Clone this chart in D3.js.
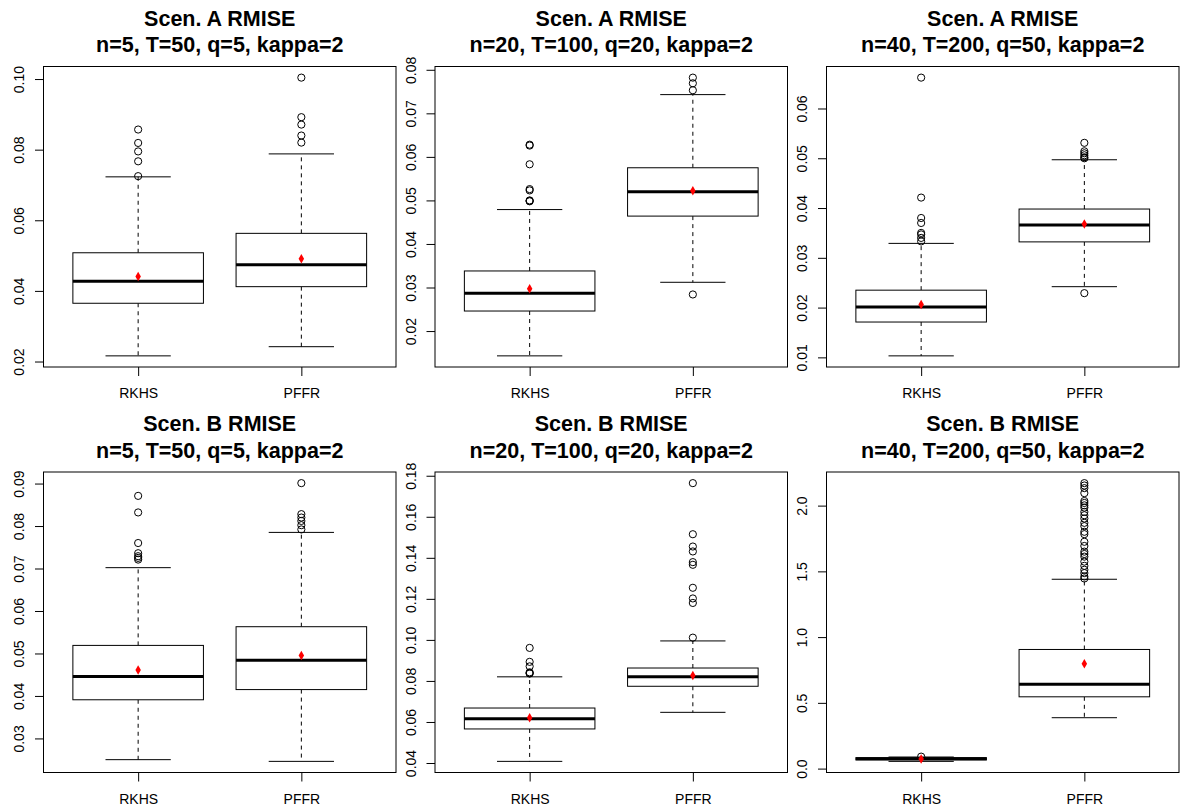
<!DOCTYPE html>
<html><head><meta charset="utf-8">
<script src="https://cdn.jsdelivr.net/npm/d3@7"></script>
<style>
body{margin:0;background:#fff}
svg{display:block}
text{font-family:"Liberation Sans",Arial,Helvetica,sans-serif}
</style>
</head><body>
<svg id="c" width="1183" height="811"></svg>
<script>
// ---------- data ----------
const titles = ["Scen. A RMISE","Scen. A RMISE","Scen. A RMISE","Scen. B RMISE","Scen. B RMISE","Scen. B RMISE"];
const subtitles = ["n=5, T=50, q=5, kappa=2","n=20, T=100, q=20, kappa=2","n=40, T=200, q=50, kappa=2",
                   "n=5, T=50, q=5, kappa=2","n=20, T=100, q=20, kappa=2","n=40, T=200, q=50, kappa=2"];
const categories = ["RKHS","PFFR"];

const whiskerLow  = [[0.0216,0.0242],[0.0143,0.0312],[0.0103,0.0242],[0.0250,0.0246],[0.0408,0.0647],[0.055,0.387]];
const q1          = [[0.0365,0.0412],[0.0246,0.0464],[0.0171,0.0332],[0.0391,0.0415],[0.0566,0.0774],[0.066,0.546]];
const medians     = [[0.0427,0.0474],[0.0287,0.0520],[0.0201,0.0366],[0.0446,0.0484],[0.0616,0.0820],[0.075,0.642]];
const q3          = [[0.0508,0.0563],[0.0338,0.0575],[0.0235,0.0398],[0.0519,0.0563],[0.0668,0.0863],[0.083,0.906]];
const whiskerHigh = [[0.0723,0.0788],[0.0479,0.0743],[0.0329,0.0497],[0.0702,0.0785],[0.0820,0.0995],[0.088,1.44]];
const means       = [[0.0441,0.0491],[0.0297,0.0522],[0.0206,0.0368],[0.0461,0.0495],[0.0621,0.0826],[0.073,0.797]];

const outliers = [
  [[0.0857,0.0819,0.0795,0.0767,0.0725],[0.1004,0.0892,0.0871,0.0840,0.0820]],
  [[0.0628,0.0626,0.0583,0.0526,0.0523,0.0500,0.0499,0.0498],[0.0782,0.0769,0.0753,0.0284]],
  [[0.0662,0.0421,0.0380,0.0370,0.0350,0.0347,0.0340,0.0333],[0.0531,0.0514,0.0510,0.0506,0.0502,0.0500,0.0229]],
  [[0.0871,0.0832,0.0760,0.0736,0.0729,0.0725,0.0721],[0.0901,0.0828,0.0820,0.0812,0.0802,0.0792]],
  [[0.0961,0.0893,0.0871,0.0842,0.0838,0.0836],[0.1764,0.1515,0.1455,0.1431,0.1379,0.1366,0.1254,0.1202,0.1180,0.1011]],
  [[0.091],[2.171,2.153,2.133,2.095,2.035,2.020,2.002,1.985,1.952,1.927,1.902,1.869,1.844,1.801,1.783,1.725,1.693,1.650,1.632,1.612,1.574,1.542,1.512,1.487,1.461,1.446]]
];

const yTicks = [
  [0.02,0.04,0.06,0.08,0.10],
  [0.02,0.03,0.04,0.05,0.06,0.07,0.08],
  [0.01,0.02,0.03,0.04,0.05,0.06],
  [0.03,0.04,0.05,0.06,0.07,0.08,0.09],
  [0.04,0.06,0.08,0.10,0.12,0.14,0.16,0.18],
  [0.0,0.5,1.0,1.5,2.0]
];
const yTickLabels = [
  ["0.02","0.04","0.06","0.08","0.10"],
  ["0.02","0.03","0.04","0.05","0.06","0.07","0.08"],
  ["0.01","0.02","0.03","0.04","0.05","0.06"],
  ["0.03","0.04","0.05","0.06","0.07","0.08","0.09"],
  ["0.04","0.06","0.08","0.10","0.12","0.14","0.16","0.18"],
  ["0.0","0.5","1.0","1.5","2.0"]
];

// ---------- layout ----------
const colLeft = [43.5, 435, 826.5];
const plotW = 352.5;
const rowTop = [66.5, 472];
const plotH = 300.5;

const svg = d3.select("#c");

for (let p = 0; p < 6; p++) {
  const left = colLeft[p % 3], top = rowTop[Math.floor(p / 3)];
  const g = svg.append("g");

  // y domain like R: data range extended by 4%
  const all = [].concat(whiskerLow[p], whiskerHigh[p], outliers[p][0], outliers[p][1]);
  const lo = d3.min(all), hi = d3.max(all), ext = (hi - lo) * 0.04;
  const y = d3.scaleLinear().domain([lo - ext, hi + ext]).range([top + plotH, top]);
  const x = d3.scaleLinear().domain([0.42, 2.58]).range([left, left + plotW]);
  const halfBox = x(1.4) - x(1);
  const halfCap = halfBox / 2;

  // titles
  const cx = left + plotW / 2;
  g.append("text").attr("x", cx).attr("y", top - 41).attr("text-anchor", "middle")
    .attr("font-size", 21.5).attr("font-weight", "bold").text(titles[p]);
  g.append("text").attr("x", cx).attr("y", top - 14.5).attr("text-anchor", "middle")
    .attr("font-size", 21.5).attr("font-weight", "bold").text(subtitles[p]);

  categories.forEach((c, k) => {
    const xc = x(k + 1);
    // whiskers (dashed)
    g.append("line").attr("x1", xc).attr("x2", xc).attr("y1", y(q3[p][k])).attr("y2", y(whiskerHigh[p][k]))
      .attr("stroke", "#000").attr("stroke-width", 1).attr("stroke-dasharray", "4,4");
    g.append("line").attr("x1", xc).attr("x2", xc).attr("y1", y(q1[p][k])).attr("y2", y(whiskerLow[p][k]))
      .attr("stroke", "#000").attr("stroke-width", 1).attr("stroke-dasharray", "4,4");
    // caps
    [whiskerHigh[p][k], whiskerLow[p][k]].forEach(v => {
      g.append("line").attr("x1", xc - halfCap).attr("x2", xc + halfCap).attr("y1", y(v)).attr("y2", y(v))
        .attr("stroke", "#000").attr("stroke-width", 1);
    });
    // box
    g.append("rect").attr("x", xc - halfBox).attr("width", 2 * halfBox)
      .attr("y", y(q3[p][k])).attr("height", Math.max(0.5, y(q1[p][k]) - y(q3[p][k])))
      .attr("fill", "#fff").attr("stroke", "#000").attr("stroke-width", 1);
    // median
    g.append("line").attr("x1", xc - halfBox).attr("x2", xc + halfBox)
      .attr("y1", y(medians[p][k])).attr("y2", y(medians[p][k]))
      .attr("stroke", "#000").attr("stroke-width", 3);
    // outliers
    g.selectAll(null).data(outliers[p][k]).enter().append("circle")
      .attr("cx", xc).attr("cy", d => y(d)).attr("r", 3.6)
      .attr("fill", "none").attr("stroke", "#000").attr("stroke-width", 1);
    // mean
    g.append("path").attr("d", d3.symbol(d3.symbolDiamond, 26)())
      .attr("transform", `translate(${xc},${y(means[p][k])})`).attr("fill", "#ff0000");
  });

  // frame
  g.append("rect").attr("x", left).attr("y", top).attr("width", plotW).attr("height", plotH)
    .attr("fill", "none").attr("stroke", "#000").attr("stroke-width", 1);

  // y axis
  const ya = g.append("g").attr("transform", `translate(${left},0)`)
    .call(d3.axisLeft(y).tickValues(yTicks[p]).tickFormat((d, j) => yTickLabels[p][j]).tickSize(8.5));
  ya.select(".domain").remove();
  ya.selectAll("text").attr("x", null).attr("dy", null).attr("text-anchor", "middle")
    .attr("transform", "translate(-19.5,0) rotate(-90)").attr("font-size", 14)
    .attr("font-family", "Liberation Sans, Arial, sans-serif").attr("fill", "#000");

  // x axis
  const xa = g.append("g").attr("transform", `translate(0,${top + plotH})`)
    .call(d3.axisBottom(x).tickValues([1, 2]).tickFormat((d, j) => categories[j]).tickSize(9));
  xa.select(".domain").remove();
  xa.selectAll("text").attr("y", 31).attr("dy", null).attr("font-size", 14)
    .attr("font-family", "Liberation Sans, Arial, sans-serif").attr("fill", "#000");
}
</script>
</body></html>
